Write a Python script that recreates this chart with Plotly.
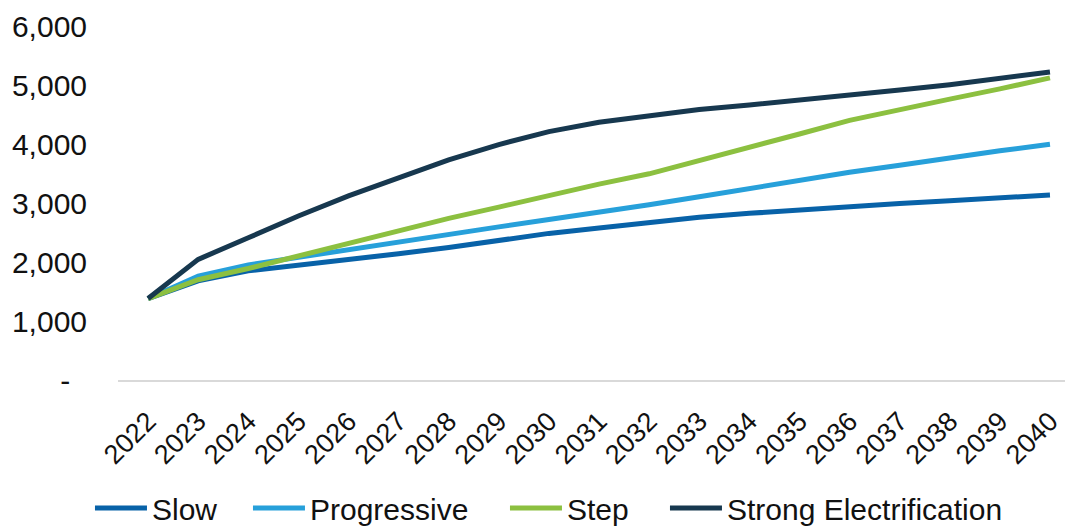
import plotly.graph_objects as go

# Categories (years) and scenario series
years = [str(y) for y in range(2022, 2041)]

slow = [1380, 1680, 1850, 1940, 2040, 2140, 2245, 2365, 2485, 2575,
        2675, 2760, 2825, 2885, 2945, 2990, 3040, 3090, 3135]
progressive = [1380, 1760, 1950, 2080, 2225, 2340, 2470, 2595, 2720, 2835,
               2970, 3105, 3245, 3375, 3520, 3640, 3770, 3885, 3995]
step = [1380, 1700, 1890, 2100, 2330, 2540, 2740, 2930, 3135, 3320,
        3495, 3715, 3945, 4170, 4400, 4590, 4760, 4935, 5120]
strong = [1380, 2045, 2410, 2780, 3120, 3430, 3730, 3990, 4210, 4370,
          4480, 4585, 4660, 4740, 4830, 4915, 5005, 5105, 5220]

series_names = ["Slow", "Progressive", "Step", "Strong Electrification"]
series_values = [slow, progressive, step, strong]
series_colors = ["#0862A8", "#27A0DA", "#8CC040", "#17384F"]
legend_widths = [91, 190, 93, 290]

y_tick_vals = [0, 1000, 2000, 3000, 4000, 5000, 6000]
y_tick_text = ["-\u00a0\u00a0", "1,000", "2,000", "3,000", "4,000", "5,000", "6,000"]

FONT = "Liberation Sans, Arial, sans-serif"

fig = go.Figure()
for name, vals, color, lw in zip(series_names, series_values, series_colors, legend_widths):
    fig.add_trace(go.Scatter(
        x=years, y=vals, name=name, mode="lines",
        line=dict(color=color, width=5),
        legendwidth=lw,
    ))

fig.update_layout(
    width=1065, height=528,
    margin=dict(l=118, r=0, t=26, b=148, autoexpand=False),
    paper_bgcolor="white", plot_bgcolor="white",
    font=dict(family=FONT, color="#111111", size=30),
    showlegend=True,
    legend=dict(
        orientation="h",
        x=-0.0296, xanchor="left",
        y=-0.3616, yanchor="middle",
        font=dict(family=FONT, size=30, color="#111111"),
        itemwidth=52,
        tracegroupgap=0,
        bgcolor="rgba(0,0,0,0)",
    ),
)

fig.update_xaxes(
    type="category",
    range=[-0.6, 18.3],
    tickangle=-45,
    tickfont=dict(family=FONT, size=27, color="#111111"),
    showgrid=False, zeroline=False,
    showline=True, linecolor="#D9D9D9", linewidth=1.5,
    ticks="",
    ticklabelstandoff=13,
    automargin=False,
)
fig.update_yaxes(
    range=[0, 6000],
    tickvals=y_tick_vals, ticktext=y_tick_text,
    tickfont=dict(family=FONT, size=30, color="#111111"),
    showgrid=False, zeroline=False, showline=False,
    ticks="",
    ticklabelstandoff=30,
    automargin=False,
)

fig.write_html("out.html")
